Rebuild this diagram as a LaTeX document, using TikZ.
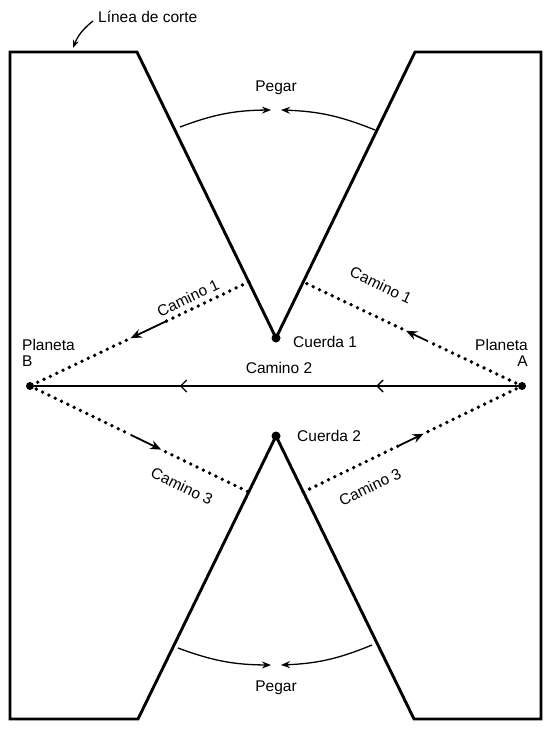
\documentclass[tikz,border=0pt]{standalone}
\usepackage{fontspec}
\setmainfont{Liberation Sans}
\usetikzlibrary{positioning,arrows.meta,calc,decorations.markings}
\tikzset{
  cut/.style={line width=2.9pt, line join=miter},
  dot/.style={circle, fill=black, inner sep=0pt, minimum size=8pt},
  dotline/.style={line width=3.8pt, line cap=round, dash pattern=on 0pt off 7pt},
  dirarr/.style={-{Stealth[length=11pt,width=9pt]}, line width=1.8pt},
  glue/.style={-{Stealth[length=9pt,width=7pt]}, line width=1.3pt},
  lab/.style={inner sep=0pt, text=black},
}
\begin{document}
\begin{tikzpicture}[x=1pt, y=-1pt, font=\fontsize{15.5pt}{16.5pt}\selectfont]
  \useasboundingbox (0,0) rectangle (550,730);
  % corners of the sheet
  \coordinate (tl) at (137,52);
  \coordinate (tr) at (415,52);
  \coordinate (bl) at (138,719);
  \coordinate (br) at (414,719);
  \coordinate (c1) at (276,338);
  \coordinate (c2) at (276,436);
  \draw[cut] (10,52) -- (tl) -- (c1) -- (tr) -- (541,52) -- (541,719)
    -- (br) -- (c2) -- (bl) -- (10,719) -- cycle;
  \node[dot, minimum size=9pt] (cu1) at (c1) {};
  \node[dot, minimum size=9pt] (cu2) at (c2) {};
  \node[lab, anchor=west] (lcu1) at (293,342) {Cuerda 1};
  \node[lab, anchor=west] (lcu2) at (297,436) {Cuerda 2};

  % planets
  \node[dot] (pB) at (30,386) {};
  \node[dot] (pA) at (522,386) {};
  \node[lab, align=left, anchor=north west] (lpB) at (22,339) {Planeta\\B};
  \node[lab, align=right, anchor=north east] (lpA) at (528,339) {Planeta\\A};

  % where the paths meet the fold lines
  \coordinate (v1l) at ($(tl)!0.804!(c1)$);
  \coordinate (v1r) at ($(tr)!0.804!(c1)$);
  \coordinate (v3l) at ($(c2)!0.198!(bl)$);
  \coordinate (v3r) at ($(c2)!0.198!(br)$);

  % Camino 1
  \draw[dotline] (pA.center) -- ($(pA)!0.43!(v1r)$);
  \draw[dotline] ($(pA)!0.55!(v1r)$) -- (v1r);
  \draw[dirarr] ($(pA)!0.43!(v1r)$) -- ($(pA)!0.53!(v1r)$);
  \draw[dotline] (v1l) -- ($(v1l)!0.38!(pB)$);
  \draw[dotline] ($(v1l)!0.56!(pB)$) -- (pB.center);
  \draw[dirarr] ($(v1l)!0.38!(pB)$) -- ($(v1l)!0.54!(pB)$);
  \node[lab, rotate=25.6] (lc1l) at (188,298) {Camino 1};
  \node[lab, rotate=-25.6] (lc1r) at (381,285) {Camino 1};

  % Camino 2
  \draw[line width=1.4pt, postaction={decorate}, decoration={markings,
      mark=at position 0.293 with {\arrow{Straight Barb[length=6pt,width=12pt,line width=1.4pt]}},
      mark=at position 0.699 with {\arrow{Straight Barb[length=6pt,width=12pt,line width=1.4pt]}}}]
    (pA) -- (pB);
  \node[lab] (lc2) at (279,368) {Camino 2};

  % Camino 3
  \draw[dotline] (pB.center) -- ($(pB)!0.46!(v3l)$);
  \draw[dotline] ($(pB)!0.62!(v3l)$) -- (v3l);
  \draw[dirarr] ($(pB)!0.46!(v3l)$) -- ($(pB)!0.60!(v3l)$);
  \draw[dotline] (v3r) -- ($(v3r)!0.435!(pA)$);
  \draw[dotline] ($(v3r)!0.57!(pA)$) -- (pA.center);
  \draw[dirarr] ($(v3r)!0.435!(pA)$) -- ($(v3r)!0.55!(pA)$);
  \node[lab, rotate=-25.6] (lc3l) at (182,486) {Camino 3};
  \node[lab, rotate=25.6] (lc3r) at (370,487) {Camino 3};

  % Pegar
  \coordinate (g1) at (180,127);
  \coordinate (g2) at (271,110);
  \coordinate (g3) at (281,110);
  \coordinate (g4) at (375,130);
  \draw[glue] (g1) to[bend left=10] (g2);
  \draw[glue] (g4) to[bend right=10] (g3);
  \node[lab] (peg1) at (276,88) {Pegar};
  \coordinate (g5) at (178,648);
  \coordinate (g6) at (271,665);
  \coordinate (g7) at (281,665);
  \coordinate (g8) at (372,645);
  \draw[glue] (g5) to[bend right=10] (g6);
  \draw[glue] (g8) to[bend left=10] (g7);
  \node[lab] (peg2) at (276,688) {Pegar};

  % cut line label
  \node[lab, anchor=west] (corte) at (98,17) {Línea de corte};
  \coordinate (cutpt) at (73,48);
  \draw[-{Stealth[length=8pt,width=6pt]}, line width=1.3pt]
    ([shift={(-5,4)}]corte.west) to[bend right=15] (cutpt);
\end{tikzpicture}
\end{document}
